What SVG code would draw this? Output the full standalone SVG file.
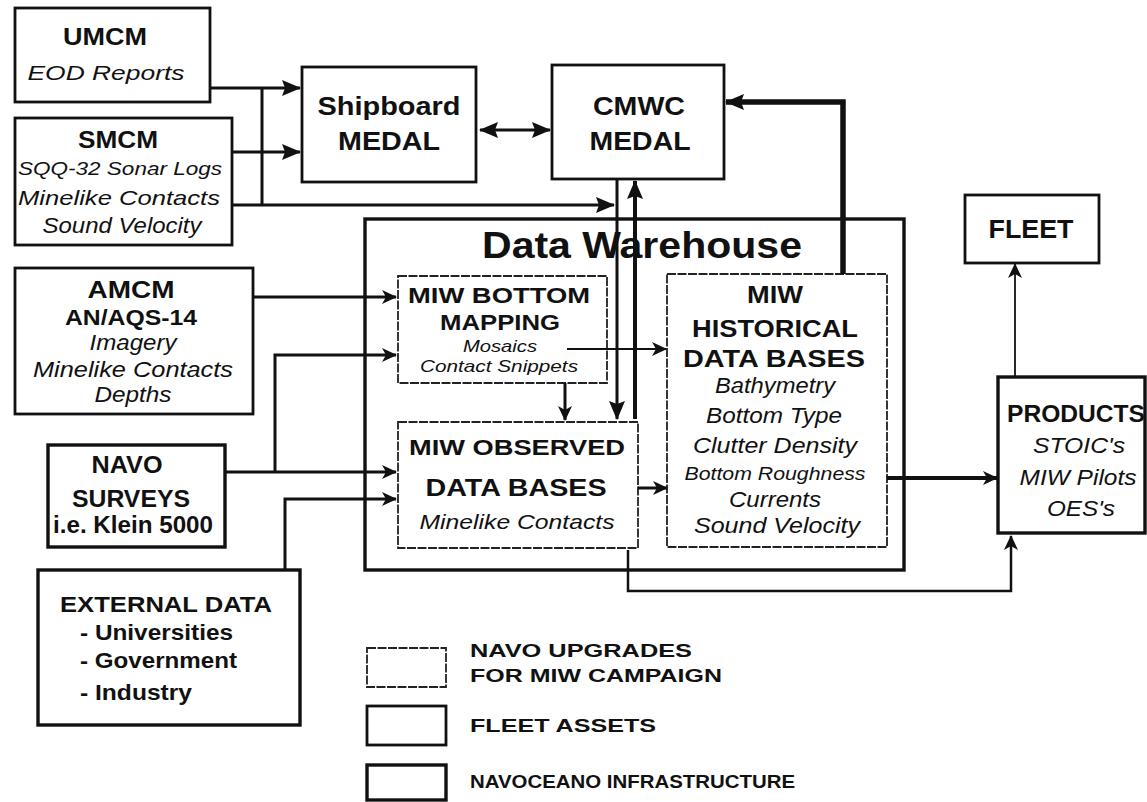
<svg xmlns="http://www.w3.org/2000/svg" width="1147" height="802" viewBox="0 0 1147 802">
<style>
text{font-family:"Liberation Sans",Arial,sans-serif;fill:#111}
.b{font-weight:bold}
.i{font-style:italic}
.m{text-anchor:middle}
.fa{fill:#fff;stroke:#111;stroke-width:2.8}
.ni{fill:#fff;stroke:#111;stroke-width:3.4}
.up{fill:#fff;stroke:#222;stroke-width:1.8;stroke-dasharray:9 1.5}
.c{fill:none;stroke:#111;stroke-width:3}
</style>
<defs>
<marker id="a" markerUnits="userSpaceOnUse" markerWidth="19" markerHeight="16" refX="18" refY="8" orient="auto-start-reverse">
<path d="M0,0 L19,8 L0,16 L3,8z" fill="#111"/>
</marker>
<marker id="s" markerUnits="userSpaceOnUse" markerWidth="15" markerHeight="14" refX="14" refY="7" orient="auto">
<path d="M0,0 L15,7 L0,14 L4,7z" fill="#111"/>
</marker>
</defs>
<rect width="1147" height="802" fill="#fff"/>

<g id="data-warehouse">
<rect class="ni" x="365" y="219" width="539" height="351"/>
<text class="b m" x="642" y="258" font-size="36" textLength="320" lengthAdjust="spacingAndGlyphs">Data Warehouse</text>
</g>

<g id="umcm">
<rect class="fa" x="15" y="8" width="195" height="94"/>
<text class="b m" x="105" y="45" font-size="24" textLength="84" lengthAdjust="spacingAndGlyphs">UMCM</text>
<text class="i m" x="106" y="80" font-size="20" textLength="157" lengthAdjust="spacingAndGlyphs">EOD  Reports</text>
</g>

<g id="smcm">
<rect class="fa" x="15" y="118" width="217" height="127"/>
<text class="b m" x="118" y="148" font-size="24" textLength="80" lengthAdjust="spacingAndGlyphs">SMCM</text>
<text class="i m" x="120" y="175" font-size="19" textLength="204" lengthAdjust="spacingAndGlyphs">SQQ-32 Sonar Logs</text>
<text class="i m" x="119" y="205" font-size="21" textLength="202" lengthAdjust="spacingAndGlyphs">Minelike  Contacts</text>
<text class="i m" x="122" y="233" font-size="22" textLength="159" lengthAdjust="spacingAndGlyphs">Sound Velocity</text>
</g>

<g id="shipboard-medal">
<rect class="fa" x="302" y="67" width="174" height="115"/>
<text class="b m" x="389" y="115" font-size="26" textLength="143" lengthAdjust="spacingAndGlyphs">Shipboard</text>
<text class="b m" x="389" y="150" font-size="26" textLength="102" lengthAdjust="spacingAndGlyphs">MEDAL</text>
</g>

<g id="cmwc-medal">
<rect class="fa" x="552" y="65" width="172" height="114"/>
<text class="b m" x="639" y="115" font-size="26" textLength="92" lengthAdjust="spacingAndGlyphs">CMWC</text>
<text class="b m" x="640" y="150" font-size="26" textLength="101" lengthAdjust="spacingAndGlyphs">MEDAL</text>
</g>

<g id="fleet">
<rect class="fa" x="965" y="195" width="134" height="68"/>
<text class="b m" x="1031" y="238" font-size="25" textLength="85" lengthAdjust="spacingAndGlyphs">FLEET</text>
</g>

<g id="amcm">
<rect class="fa" x="15" y="268" width="238" height="146"/>
<text class="b m" x="131" y="298" font-size="24" textLength="87" lengthAdjust="spacingAndGlyphs">AMCM</text>
<text class="b m" x="131" y="325" font-size="22" textLength="132" lengthAdjust="spacingAndGlyphs">AN/AQS-14</text>
<text class="i m" x="133" y="350" font-size="22" textLength="87" lengthAdjust="spacingAndGlyphs">Imagery</text>
<text class="i m" x="133" y="377" font-size="22" textLength="200" lengthAdjust="spacingAndGlyphs">Minelike  Contacts</text>
<text class="i m" x="133" y="402" font-size="22" textLength="77" lengthAdjust="spacingAndGlyphs">Depths</text>
</g>

<g id="navo-surveys">
<rect class="ni" x="48" y="445" width="177" height="102"/>
<text class="b m" x="127" y="473" font-size="24" textLength="71" lengthAdjust="spacingAndGlyphs">NAVO</text>
<text class="b m" x="131" y="507" font-size="24" textLength="118" lengthAdjust="spacingAndGlyphs">SURVEYS</text>
<text class="b m" x="133" y="533" font-size="23" textLength="160" lengthAdjust="spacingAndGlyphs">i.e. Klein 5000</text>
</g>

<g id="external-data">
<rect class="ni" x="38" y="570" width="262" height="155"/>
<text class="b" x="60" y="612" font-size="22" textLength="212" lengthAdjust="spacingAndGlyphs">EXTERNAL  DATA</text>
<text class="b" x="80" y="640" font-size="22" textLength="153" lengthAdjust="spacingAndGlyphs">- Universities</text>
<text class="b" x="80" y="668" font-size="22" textLength="157" lengthAdjust="spacingAndGlyphs">- Government</text>
<text class="b" x="80" y="700" font-size="22" textLength="112" lengthAdjust="spacingAndGlyphs">- Industry</text>
</g>

<g id="miw-bottom-mapping">
<rect class="up" x="398" y="276" width="209" height="107"/>
<text class="b m" x="499" y="303" font-size="22" textLength="182" lengthAdjust="spacingAndGlyphs">MIW BOTTOM</text>
<text class="b m" x="500" y="330" font-size="22" textLength="120" lengthAdjust="spacingAndGlyphs">MAPPING</text>
<text class="i m" x="500" y="352" font-size="17" textLength="74" lengthAdjust="spacingAndGlyphs">Mosaics</text>
<text class="i m" x="499" y="372" font-size="17" textLength="158" lengthAdjust="spacingAndGlyphs">Contact  Snippets</text>
</g>

<g id="miw-observed">
<rect class="up" x="398" y="422" width="240" height="126"/>
<text class="b m" x="517" y="455" font-size="22" textLength="216" lengthAdjust="spacingAndGlyphs">MIW  OBSERVED</text>
<text class="b m" x="516" y="496" font-size="24" textLength="181" lengthAdjust="spacingAndGlyphs">DATA BASES</text>
<text class="i m" x="517" y="529" font-size="21" textLength="195" lengthAdjust="spacingAndGlyphs">Minelike  Contacts</text>
</g>

<g id="miw-historical">
<rect class="up" x="667" y="274" width="220" height="273"/>
<text class="b m" x="775" y="303" font-size="24" textLength="56" lengthAdjust="spacingAndGlyphs">MIW</text>
<text class="b m" x="775" y="337" font-size="24" textLength="166" lengthAdjust="spacingAndGlyphs">HISTORICAL</text>
<text class="b m" x="774" y="367" font-size="24" textLength="182" lengthAdjust="spacingAndGlyphs">DATA BASES</text>
<text class="i m" x="775" y="393" font-size="22" textLength="120" lengthAdjust="spacingAndGlyphs">Bathymetry</text>
<text class="i m" x="774" y="423" font-size="22" textLength="136" lengthAdjust="spacingAndGlyphs">Bottom Type</text>
<text class="i m" x="775" y="453" font-size="22" textLength="164" lengthAdjust="spacingAndGlyphs">Clutter Density</text>
<text class="i m" x="775" y="480" font-size="18" textLength="181" lengthAdjust="spacingAndGlyphs">Bottom  Roughness</text>
<text class="i m" x="775" y="507" font-size="22" textLength="92" lengthAdjust="spacingAndGlyphs">Currents</text>
<text class="i m" x="777" y="533" font-size="22" textLength="166" lengthAdjust="spacingAndGlyphs">Sound Velocity</text>
</g>

<g id="products">
<rect class="ni" x="998" y="377" width="147" height="156"/>
<text class="b m" x="1076" y="422" font-size="23" textLength="138" lengthAdjust="spacingAndGlyphs">PRODUCTS</text>
<text class="i m" x="1079" y="453" font-size="22" textLength="92" lengthAdjust="spacingAndGlyphs">STOIC's</text>
<text class="i m" x="1078" y="485" font-size="22" textLength="117" lengthAdjust="spacingAndGlyphs">MIW Pilots</text>
<text class="i m" x="1081" y="516" font-size="22" textLength="68" lengthAdjust="spacingAndGlyphs">OES's</text>
</g>

<g id="connectors">
<path class="c" d="M210,88 H300" marker-end="url(#a)"/>
<path class="c" d="M262,88 V205"/>
<path class="c" d="M232,152 H300" marker-end="url(#a)"/>
<path class="c" d="M232,205 H614" marker-end="url(#a)"/>
<path class="c" d="M480,130 H550" marker-start="url(#a)" marker-end="url(#a)"/>
<path class="c" d="M617,179 V419" marker-end="url(#a)"/>
<path class="c" d="M635,419 V181" style="stroke-width:4" marker-end="url(#a)"/>
<path class="c" d="M843,274 V102 H726" style="stroke-width:5.5" marker-end="url(#a)"/>
<path class="c" d="M253,297 H396" marker-end="url(#s)"/>
<path class="c" d="M225,472 H396" marker-end="url(#s)"/>
<path class="c" d="M275,472 V355 H396" marker-end="url(#s)"/>
<path class="c" d="M285,570 V499 H396" marker-end="url(#s)"/>
<path class="c" d="M565,383 V420" marker-end="url(#s)"/>
<path class="c" d="M567,349 H666" style="stroke-width:2" marker-end="url(#s)"/>
<path class="c" d="M638,488 H667" marker-end="url(#s)"/>
<path class="c" d="M887,478 H997" style="stroke-width:4" marker-end="url(#s)"/>
<path class="c" d="M628,550 V591 H1011 V536" style="stroke-width:2.5" marker-end="url(#s)"/>
<path class="c" d="M1015,377 V264" style="stroke-width:1.8" marker-end="url(#s)"/>
</g>

<g id="legend">
<rect class="up" x="367" y="648" width="79" height="39"/>
<rect class="fa" x="367" y="706" width="79" height="39"/>
<rect class="ni" x="367" y="765" width="79" height="35"/>
<text class="b" x="470" y="657" font-size="19" textLength="222" lengthAdjust="spacingAndGlyphs">NAVO  UPGRADES</text>
<text class="b" x="470" y="682" font-size="19" textLength="252" lengthAdjust="spacingAndGlyphs">FOR MIW CAMPAIGN</text>
<text class="b" x="470" y="732" font-size="19" textLength="186" lengthAdjust="spacingAndGlyphs">FLEET  ASSETS</text>
<text class="b" x="470" y="788" font-size="19" textLength="325" lengthAdjust="spacingAndGlyphs">NAVOCEANO  INFRASTRUCTURE</text>
</g>
</svg>
